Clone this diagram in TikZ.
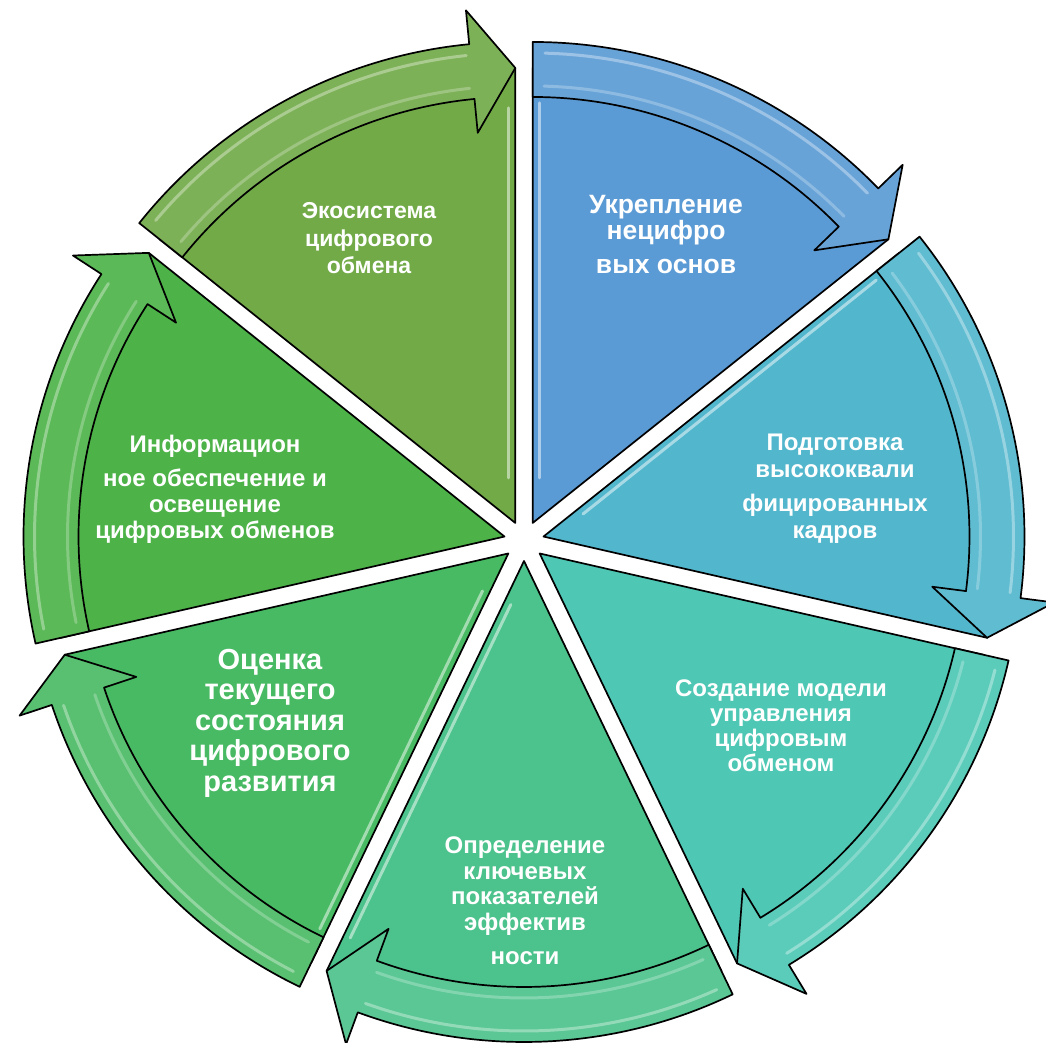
\documentclass[tikz,border=0pt]{standalone}
\usepackage{fontspec}
\setmainfont{Liberation Sans}
\definecolor{c1}{RGB}{91,155,213}
\definecolor{c2}{RGB}{82,182,205}
\definecolor{c3}{RGB}{78,200,180}
\definecolor{c4}{RGB}{76,194,140}
\definecolor{c5}{RGB}{73,186,100}
\definecolor{c6}{RGB}{77,179,72}
\definecolor{c7}{RGB}{114,170,72}
\tikzset{
  outline/.style={draw=black, line width=1.7pt, line join=round},
  gloss/.style={draw=white, line width=3pt, opacity=0.5, line cap=round},
  txt/.style={text=white, align=center, inner sep=0pt}
}
% #1 start angle, #2 colour, #3 edge highlight: 0 none, 1 start edge, 2 end edge
\newcommand{\drawsegment}[3]{%
  \pgfmathsetmacro\sa{#1}%
  \pgfmathsetmacro\ea{#1-51.4286}%
  \pgfmathsetmacro\ma{#1-25.7143}%
  \pgfmathsetmacro\ha{\ea+5.5}%
  \begin{scope}[shift={(\ma:20pt)}]
    \path[fill=#2, outline] (0,0) -- (\sa:455pt) arc[start angle=\sa, end angle=\ea, radius=455pt] -- cycle;
    \ifnum#3=1
      \draw[gloss, shift={(\sa-90:7pt)}] (\sa:45pt) -- (\sa:420pt);
    \fi
    \ifnum#3=2
      \draw[gloss, shift={(\ea+90:7pt)}] (\ea:45pt) -- (\ea:415pt);
    \fi
    \path[fill=#2!92!white, outline] (\sa:481pt) arc[start angle=\sa, end angle=\ha, radius=481pt]
      -- (\ha:515pt) -- (\ea:455pt) -- (\ha:392pt) -- (\ha:426pt)
      arc[start angle=\ha, end angle=\sa, radius=426pt] -- cycle;
    \draw[gloss, opacity=0.35] (\sa-1.5:470pt) arc[start angle=\sa-1.5, end angle=\ha+0.5, radius=470pt];
    \draw[gloss, opacity=0.25] (\sa-1.5:437pt) arc[start angle=\sa-1.5, end angle=\ha+0.5, radius=437pt];
  \end{scope}}
\begin{document}
\begin{tikzpicture}[x=1pt,y=1pt]
\useasboundingbox (-524,-502) rectangle (522,541);
\clip (-524,-502) rectangle (522,541);
\drawsegment{90}{c1}{1}
\drawsegment{38.5714}{c2}{1}
\drawsegment{-12.8571}{c3}{0}
\drawsegment{-64.2857}{c4}{2}
\drawsegment{-115.7143}{c5}{1}
\drawsegment{-167.1429}{c6}{0}
\drawsegment{141.4286}{c7}{2}

\node[txt, font=\fontsize{26.5}{26}\selectfont\bfseries] (t1) at (142,306) {Укрепление\\нецифро\\[8pt]вых основ};
\node[txt, font=\fontsize{24}{27}\selectfont\bfseries] (t2) at (311,52) {Подготовка\\высококвали\\[7pt]фицированных\\кадров};
\node[txt, font=\fontsize{24}{25}\selectfont\bfseries] (t3) at (257,-185) {Создание модели\\управления\\цифровым\\обменом};
\node[txt, font=\fontsize{24}{25.5}\selectfont\bfseries] (t4) at (1,-359.5) {Определение\\ключевых\\показателей\\эффектив\\[8.5pt]ности};
\node[txt, font=\fontsize{29}{30.5}\selectfont\bfseries] (t5) at (-254,-182) {Оценка\\текущего\\состояния\\цифрового\\развития};
\node[txt, font=\fontsize{24}{26}\selectfont\bfseries] (t6) at (-309,52) {Информацион\\[8pt]ное обеспечение и\\освещение\\цифровых обменов};
\node[txt, font=\fontsize{23}{27.5}\selectfont\bfseries] (t7) at (-155,302.5) {Экосистема\\цифрового\\обмена};
\end{tikzpicture}
\end{document}
